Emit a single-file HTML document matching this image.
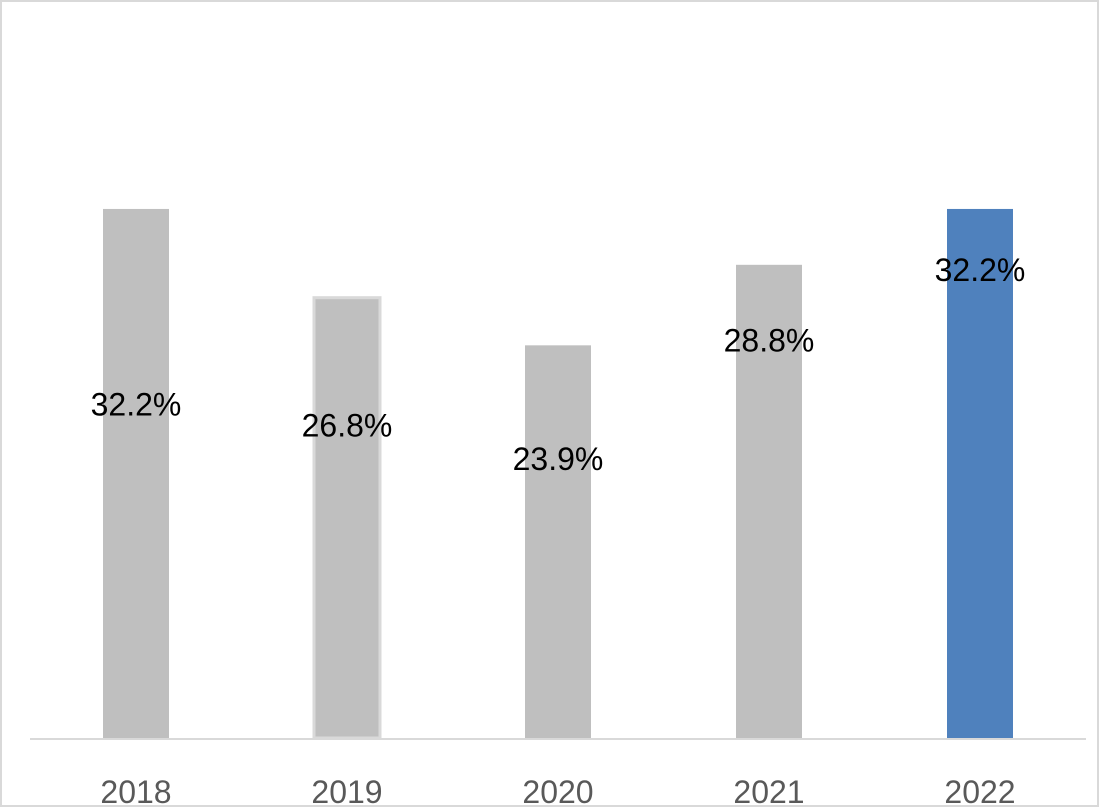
<!DOCTYPE html>
<html><head><meta charset="utf-8"><style>
html,body{margin:0;padding:0;background:#fff;}
svg{display:block;font-family:"Liberation Sans",Arial,sans-serif;}
</style></head><body>
<svg id="chart" width="1100" height="808" viewBox="0 0 1100 808" xmlns="http://www.w3.org/2000/svg">
<rect x="1" y="1" width="1097" height="805" fill="#fff" stroke="#d9d9d9" stroke-width="2"/>
<g id="bars"></g>
<line x1="30" y1="739" x2="1086" y2="739" stroke="#d9d9d9" stroke-width="2"/>
<g id="labels"></g>
</svg>
<script>
const categories = ["2018","2019","2020","2021","2022"];
const values = [32.2, 26.8, 23.9, 28.8, 32.2];
const valueLabels = ["32.2%","26.8%","23.9%","28.8%","32.2%"];
const highlight = [false,false,false,false,true];
// layout (label vertical position as fraction of bar height from bottom)
const labelFrac = [0.63, 0.71, 0.71, 0.84, 0.885];
const NS="http://www.w3.org/2000/svg";
const baseY=738, pxPerUnit=16.43, x0=136, step=211, barW=66;
const xPos=i=>x0+i*step;
const yPos=v=>baseY-v*pxPerUnit;
const bars=document.getElementById('bars'), labels=document.getElementById('labels');
categories.forEach((c,i)=>{
  const v=values[i], top=yPos(v);
  const r=document.createElementNS(NS,'rect');
  
  
  r.setAttribute('x',xPos(i)-barW/2);r.setAttribute('y',top);
  r.setAttribute('width',barW);r.setAttribute('height',baseY-top);
  r.setAttribute('fill',highlight[i]?'#4f81bd':'#bfbfbf');
  if(i===1){r.setAttribute('stroke','#d9d9d9');r.setAttribute('stroke-width','3');}
  bars.appendChild(r);
  const t=document.createElementNS(NS,'text');
  
  
  t.setAttribute('x',xPos(i));
  t.setAttribute('y',baseY-(baseY-top)*labelFrac[i]+11);
  t.setAttribute('text-anchor','middle');t.setAttribute('font-size','32');t.setAttribute('fill','#000');
  t.textContent=valueLabels[i];
  labels.appendChild(t);
  const xl=document.createElementNS(NS,'text');
  
  
  xl.setAttribute('x',xPos(i));xl.setAttribute('y',803);
  xl.setAttribute('text-anchor','middle');xl.setAttribute('font-size','32');xl.setAttribute('fill','#595959');
  xl.textContent=c;
  labels.appendChild(xl);
});
</script>
</body></html>
